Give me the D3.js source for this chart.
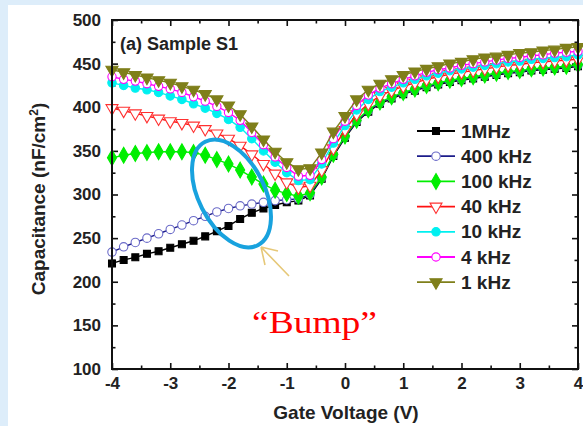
<!DOCTYPE html>
<html><head><meta charset="utf-8">
<script src="https://cdn.jsdelivr.net/npm/d3@7"></script>
<style>
html,body{margin:0;padding:0;background:#ddedfa;}
svg{display:block;}
text{font-family:"Liberation Sans",Arial,sans-serif;font-weight:bold;fill:#222;}
</style></head>
<body>
<svg id="c" width="583" height="426"></svg>
<script>
const voltage = [-4.0,-3.8,-3.6,-3.4,-3.2,-3.0,-2.8,-2.6,-2.4,-2.2,-2.0,-1.8,-1.6,-1.4,-1.2,-1.0,-0.8,-0.6,-0.4,-0.2,0.0,0.2,0.4,0.6,0.8,1.0,1.2,1.4,1.6,1.8,2.0,2.2,2.4,2.6,2.8,3.0,3.2,3.4,3.6,3.8,4.0];
const c1MHz   = [221,225,228,232,235,239,243,247,252,258,264,272,279,284,288,291,293,299,318,344,365,383,395,404,410,415,419,423,426,429,431,433,435,437,439,440,442,443,444,445,447];
const c400kHz = [234,240,245,250,255,260,265,270,275,280,284,287,289,291,293,294,295,300,319,345,366,384,396,405,411,416,420,424,427,430,432,434,436,438,440,441,443,444,445,446,448];
const c100kHz = [342,345,347,348,349,349,349,348,345,340,335,328,320,312,305,301,298,302,320,346,367,385,397,406,412,417,421,425,428,431,433,435,437,439,441,442,444,445,446,447,449];
const c40kHz  = [399,396,393,390,387,384,382,379,375,370,364,356,346,335,324,314,308,310,328,353,374,392,404,413,419,424,428,432,435,438,440,442,444,446,448,449,451,452,453,454,455];
const c10kHz  = [428,425,422,420,417,413,409,404,399,393,386,377,364,350,337,325,316,317,335,359,379,397,409,418,423,428,432,436,439,442,444,446,448,450,452,453,455,456,457,458,460];
const c4kHz   = [435,432,430,427,424,421,417,412,407,401,394,385,371,357,343,331,321,322,340,364,384,402,414,422,427,432,436,440,443,445,448,450,452,454,456,457,459,460,462,463,464];
const c1kHz   = [443,440,437,434,431,428,424,420,415,409,402,392,378,363,349,337,329,330,348,372,390,409,420,427,432,437,441,444,447,450,452,455,457,458,460,462,463,465,466,468,469];
const seriesNames = ["1MHz","400 kHz","100 kHz","40 kHz","10 kHz","4 kHz","1 kHz"];
const xTicks = [-4,-3,-2,-1,0,1,2,3,4];
const yTicks = [100,150,200,250,300,350,400,450,500];

const series = [
  {name:seriesNames[0], vals:c1MHz,   line:"#000000", stroke:"#000000", fill:"#000000", sym:d3.symbolSquare,   size:48, rot:0},
  {name:seriesNames[1], vals:c400kHz, line:"#1c1c8a", stroke:"#6a6ac8", fill:"#ffffff", sym:d3.symbolCircle,   size:56, rot:0},
  {name:seriesNames[2], vals:c100kHz, line:"#00ee00", stroke:"#00ee00", fill:"#00ee00", sym:d3.symbolDiamond,  size:72, rot:0},
  {name:seriesNames[3], vals:c40kHz,  line:"#ff1010", stroke:"#ff3030", fill:"#ffffff", sym:d3.symbolTriangle, size:62, rot:180},
  {name:seriesNames[4], vals:c10kHz,  line:"#00f0f0", stroke:"#00f0f0", fill:"#00f0f0", sym:d3.symbolCircle,   size:56, rot:0},
  {name:seriesNames[5], vals:c4kHz,   line:"#ff00ff", stroke:"#ff00ff", fill:"#ffffff", sym:d3.symbolCircle,   size:54, rot:0},
  {name:seriesNames[6], vals:c1kHz,   line:"#7f7f1a", stroke:"#7f7f1a", fill:"#7f7f1a", sym:d3.symbolTriangle, size:64, rot:180}
];

const svg = d3.select("#c");
svg.append("rect").attr("x",8).attr("y",5).attr("width",575).attr("height",421).attr("fill","#ffffff");

const L=112,R=578,T=20,B=369;
const x = d3.scaleLinear().domain([-4,4]).range([L,R]);
const y = d3.scaleLinear().domain([100,500]).range([B,T]);

const xMinor = d3.range(-4,4.01,0.5);
const yMinor = d3.range(100,500.1,25);

function ticks(axisGen, scale, vals, len, tr){
  const g = svg.append("g").attr("transform",tr)
    .call(axisGen(scale).tickValues(vals).tickSize(len).tickFormat(""));
  g.select(".domain").remove();
  g.selectAll("line").attr("stroke","#111").attr("stroke-width",1.6);
  return g;
}
const xMin2 = xMinor.filter(v=>!xTicks.includes(v));
const yMin2 = yMinor.filter(v=>!yTicks.includes(v));
ticks(d3.axisBottom,x,xTicks,-6,`translate(0,${B})`);
ticks(d3.axisBottom,x,xMin2,-3.5,`translate(0,${B})`);
ticks(d3.axisTop,x,xTicks,-6,`translate(0,${T})`);
ticks(d3.axisTop,x,xMin2,-3.5,`translate(0,${T})`);
ticks(d3.axisLeft,y,yTicks,-6,`translate(${L},0)`);
ticks(d3.axisLeft,y,yMin2,-3.5,`translate(${L},0)`);
ticks(d3.axisRight,y,yTicks,-6,`translate(${R},0)`);
ticks(d3.axisRight,y,yMin2,-3.5,`translate(${R},0)`);

const fmt = d => String(d);
const xl = svg.append("g").attr("transform",`translate(0,${B})`)
  .call(d3.axisBottom(x).tickValues(xTicks).tickSize(0).tickPadding(8).tickFormat(fmt));
xl.select(".domain").remove();
xl.selectAll("text").style("font-family","Liberation Sans, Arial, sans-serif").style("font-weight","bold").style("font-size","17px").attr("fill","#1a1a1a");
const yl = svg.append("g").attr("transform",`translate(${L},0)`)
  .call(d3.axisLeft(y).tickValues(yTicks).tickSize(0).tickPadding(11).tickFormat(fmt));
yl.select(".domain").remove();
yl.selectAll("text").style("font-family","Liberation Sans, Arial, sans-serif").style("font-weight","bold").style("font-size","17px").attr("fill","#1a1a1a");

const line = d3.line().x((d,i)=>x(voltage[i])).y(d=>y(d));
series.forEach(s=>{
  svg.append("path").datum(s.vals).attr("d",line).attr("fill","none").attr("stroke",s.line).attr("stroke-width",1.4);
  svg.append("g").selectAll("path").data(s.vals).join("path")
    .attr("d",d3.symbol().type(s.sym).size(s.size))
    .attr("transform",(d,i)=>`translate(${x(voltage[i])},${y(d)}) rotate(${s.rot})`)
    .attr("fill",s.fill).attr("stroke",s.stroke).attr("stroke-width",1.1);
});

svg.append("rect").attr("x",L).attr("y",T).attr("width",R-L).attr("height",B-T)
  .attr("fill","none").attr("stroke","#111").attr("stroke-width",2);

const lg = svg.append("g");
series.forEach((s,i)=>{
  const yy = 131 + i*25.2;
  lg.append("line").attr("x1",417).attr("x2",455).attr("y1",yy).attr("y2",yy).attr("stroke",s.line).attr("stroke-width",1.8);
  lg.append("path").attr("d",d3.symbol().type(s.sym).size(s.size)).attr("transform",`translate(436,${yy}) rotate(${s.rot})`)
    .attr("fill",s.fill).attr("stroke",s.stroke).attr("stroke-width",1.1);
  lg.append("text").attr("x",461).attr("y",yy+6.5).style("font-size","19px").text(s.name);
});

svg.append("text").attr("x",120).attr("y",49.5).style("font-size","18px").text("(a) Sample S1");
svg.append("text").attr("x",346).attr("y",419).attr("text-anchor","middle").style("font-size","19px").text("Gate Voltage (V)");
const yt = svg.append("text").attr("transform","translate(45,199) rotate(-90)").attr("text-anchor","middle").style("font-size","19px");
yt.append("tspan").text("Capacitance (nF/cm");
yt.append("tspan").attr("dy",-7).style("font-size","12px").text("2");
yt.append("tspan").attr("dy",7).text(")");

svg.append("ellipse").attr("cx",231.5).attr("cy",193.5).attr("rx",33).attr("ry",58)
  .attr("transform","rotate(-27,231.5,193.5)").attr("fill","none").attr("stroke","#18a2de").attr("stroke-width",4);
svg.append("path").attr("d","M289,276 L261,247 M261,247 L265,265 M261,247 L278,251")
  .attr("fill","none").attr("stroke","#e6c878").attr("stroke-width",1.6);
svg.append("text").attr("x",252).attr("y",333).style("font-family","Liberation Serif, Times New Roman, serif").style("font-weight","normal")
  .style("font-size","32px").style("fill","#ff0000").attr("textLength",125).attr("lengthAdjust","spacingAndGlyphs").text("\u201cBump\u201d");
</script>
</body></html>
